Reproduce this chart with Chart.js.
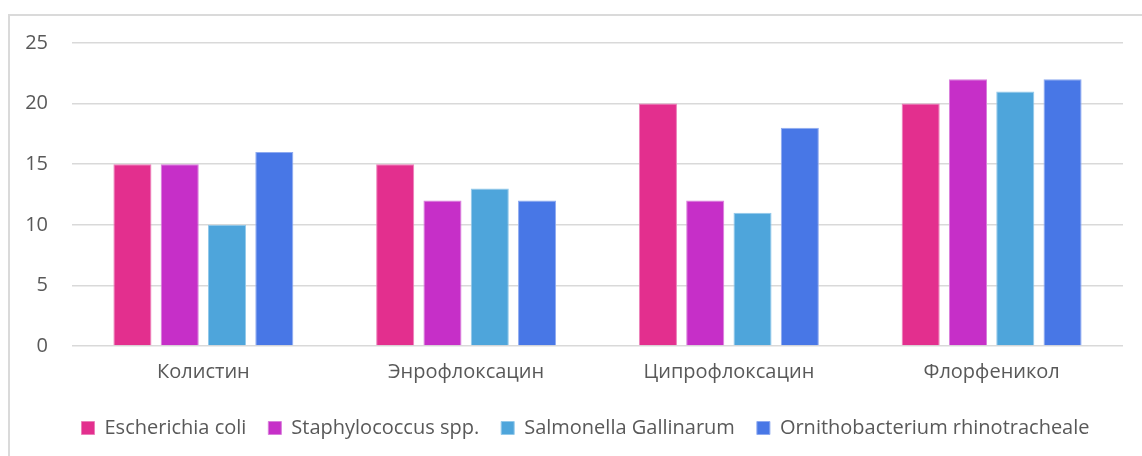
<!DOCTYPE html>
<html>
<head>
<meta charset="utf-8">
<script src="https://cdn.jsdelivr.net/npm/chart.js@4/dist/chart.umd.min.js"></script>
<style>
  body { margin: 0; background: #fff; }
  #frame {
    position: absolute; left: 8px; top: 14px; width: 1160px; height: 470px;
    border: 2px solid #dadada; box-sizing: border-box;
  }
  #wrap { position: absolute; left: 0; top: 0; width: 1142px; height: 456px; }
</style>
</head>
<body>
<div id="frame"></div>
<div id="wrap"><canvas id="chart"></canvas></div>
<script>
// drug names on the x axis
const categories = ["Колистин", "Энрофлоксацин", "Ципрофлоксацин", "Флорфеникол"];

// one array per bacterium
const ecoli = [15, 15, 20, 20];
const staph = [15, 12, 12, 22];
const salmonella = [10, 13, 11, 21];
const ornitho = [16, 12, 18, 22];

const yTicks = [0, 5, 10, 15, 20, 25];

const font = "'Open Sans', Lato, sans-serif";

// the original legend sits a bit right of the canvas centre
const shiftLegend = {
  id: "shiftLegend",
  afterLayout(chart) {
    if (chart.legend) chart.legend.left += 48;
  },
};

const ctx = document.getElementById("chart").getContext("2d");
new Chart(ctx, {
  type: "bar",
  data: {
    labels: categories,
    datasets: [
      { label: "Escherichia coli", data: ecoli, backgroundColor: "#e32f8e", borderColor: "#ec7fb9" },
      { label: "Staphylococcus spp.", data: staph, backgroundColor: "#c62fc8", borderColor: "#d97fdb" },
      { label: "Salmonella Gallinarum", data: salmonella, backgroundColor: "#4ea5db", borderColor: "#93c9ea" },
      { label: "Ornithobacterium rhinotracheale", data: ornitho, backgroundColor: "#4877e6", borderColor: "#8eaaf0" },
    ],
  },
  plugins: [shiftLegend],
  options: {
    responsive: true,
    maintainAspectRatio: false,
    animation: false,
    datasets: {
      bar: { categoryPercentage: 0.72, barPercentage: 0.805, borderWidth: 1 },
    },
    layout: { padding: { left: 0, right: 19, top: 43, bottom: 8 } },
    plugins: {
      tooltip: { enabled: false },
      legend: {
        position: "bottom",
        labels: {
          boxWidth: 13,
          boxHeight: 13,
          padding: 22,
          color: "#595959",
          font: { family: font, size: 20 },
        },
      },
    },
    scales: {
      x: {
        afterFit: (scale) => {
          scale.height += 6;
        },
        grid: { display: false },
        border: { display: false },
        ticks: { color: "#595959", padding: 6, font: { family: font, size: 20 } },
      },
      y: {
        min: 0,
        max: 25,
        afterBuildTicks: (scale) => {
          scale.ticks = yTicks.map((v) => ({ value: v }));
        },
        afterFit: (scale) => {
          scale.width = 72;
        },
        grid: { color: "#d9d9d9", lineWidth: 1.5, drawTicks: false },
        border: { display: false },
        ticks: { color: "#595959", padding: 24, font: { family: font, size: 20 } },
      },
    },
  },
});
</script>
</body>
</html>
